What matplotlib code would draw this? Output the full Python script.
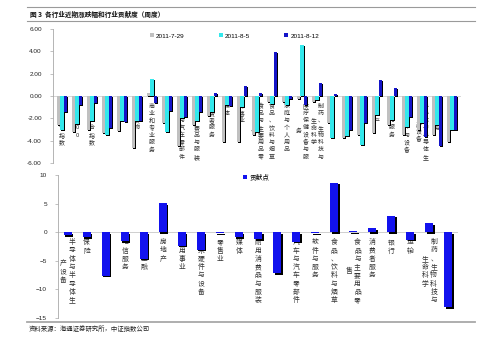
import matplotlib
matplotlib.use("Agg")
import matplotlib.pyplot as plt
from matplotlib.lines import Line2D
import numpy as np

plt.rcParams['font.family'] = ['Liberation Sans', 'Noto Sans CJK SC', 'DejaVu Sans']
CJK = ['Noto Sans CJK SC', 'DejaVu Sans']

# ---- weekly returns by index / industry group (%) ----
top_categories = ["上证综合指数", "沪深300", "深证综合指数", "能源", "材料", "资本货物",
                  "商业和专业服务", "运输", "汽车与汽车零部件", "耐用消费品与服装", "消费者服务",
                  "媒体", "零售业", "食品与主要用品零售", "食品、饮料与烟草", "家庭与个人用品",
                  "医疗保健设备与服务", "制药、生物科技与生命科学", "银行", "多元金融", "保险",
                  "房地产", "软件与服务", "技术硬件与设备", "半导体与半导体生产设备", "电信服务",
                  "公用事业"]
series_names = ["2011-7-29", "2011-8-5", "2011-8-12"]
wk_0729 = [-2.6, -3.25, -3.05, -3.3, -3.1, -4.7, 0.3, -2.45, -4.5, -2.6, -1.8, -4.1, -4.1,
           -3.5, -0.5, -0.5, -0.3, -0.5, -2.4, -3.8, -3.5, -3.35, -2.6, -3.5, -3.0, -3.5, -4.1]
wk_0805 = [-3.0, -2.55, -2.2, -3.5, -2.2, -2.2, 1.55, -3.25, -2.0, -2.2, -1.4, -0.8, -1.0,
           -3.2, -0.7, -0.8, 4.55, -0.4, -3.8, -3.6, -4.4, -1.7, -2.15, -2.75, -2.4, -2.6, -3.05]
wk_0812 = [-1.4, -0.8, -0.6, -2.9, -2.3, -2.2, -0.6, -1.35, -1.9, -1.4, 0.3, -0.9, 0.9,
           0.3, 3.95, -0.3, -0.8, 1.2, 0.2, -3.05, -2.45, 1.45, 0.7, -1.85, -3.65, -4.5, -3.05]
top_ticks = [-6, -4, -2, 0, 2, 4, 6]

# ---- contribution points by industry group ----
bottom_categories = ["半导体与半导体生产设备", "保险", "材料", "电信服务", "多元金融", "房地产",
                     "公用事业", "技术硬件与设备", "零售业", "媒体", "耐用消费品与服装", "能源",
                     "汽车与汽车零部件", "软件与服务", "食品、饮料与烟草", "食品与主要用品零售",
                     "消费者服务", "银行", "运输", "制药、生物科技与生命科学", "资本货物"]
contrib_name = "贡献点"
contrib = [-0.55, -0.85, -7.6, -1.6, -4.6, 5.1, -2.35, -3.05, -0.2, -0.9, -1.2, -7.2,
           -1.7, -0.2, 8.6, 0.2, 0.7, 2.9, -1.3, 1.55, -13.1]
bottom_ticks = [-15, -10, -5, 0, 5, 10]

title = "图 3  各行业近期涨跌幅和行业贡献度（周度）"
source = "资料来源：海通证券研究所，中证指数公司"

W, H = 500, 341
fig = plt.figure(figsize=(W / 100, H / 100), dpi=100)
fig.patch.set_facecolor('white')


def px_axes(left, top, right, bottom):
    return fig.add_axes([left / W, (H - bottom) / H, (right - left) / W, (bottom - top) / H])


def vertical_label(ax, x, text, size, line_px, first_px, col_px, max_chars=8):
    cols = [text[i:i + max_chars] for i in range(0, len(text), max_chars)]
    n = len(cols)
    first_len = len(cols[0])
    center = first_px + (first_len - 1) / 2 * line_px
    for k, col in enumerate(cols):
        dx = ((n - 1) / 2 - k) * col_px
        for j, ch in enumerate(col):
            dy = center + (j - (len(col) - 1) / 2) * line_px
            ax.annotate(ch, xy=(x, 0), xytext=(dx * 0.72, -dy * 0.72),
                        textcoords='offset points', ha='center', va='center',
                        fontsize=size, family=CJK, color='#333333', zorder=2)


def style_axes(ax):
    for s in ['top', 'right', 'bottom']:
        ax.spines[s].set_visible(False)
    ax.spines['left'].set_color('#a8a8a8')
    ax.spines['left'].set_linewidth(0.6)
    ax.set_xticks([])
    ax.tick_params(axis='y', length=2, width=0.5, color='#a8a8a8',
                   labelsize=4.6, labelcolor='#222222', pad=5)
    ax.set_facecolor('none')


# ---------------- top chart ----------------
ax1 = px_axes(53, 29, 461, 163)
n1 = len(top_categories)
x1 = np.arange(n1)
bw = 0.22
colors = ['#c0c0c0', '#33e8ec', '#1414c8']
sdx, sdy = 0.07, 0.09
handles = []
for k, (vals, col, name) in enumerate(zip([wk_0729, wk_0805, wk_0812], colors, series_names)):
    xs = x1 + (k - 1) * bw
    ax1.bar(xs + sdx, vals, bw, bottom=-sdy, color='#000000', zorder=3 + k * 0.1, linewidth=0)
    b = ax1.bar(xs, vals, bw, color=col, zorder=3.05 + k * 0.1, linewidth=0, label=name)
    handles.append(b)
ax1.axhline(0, color='#c8c8c8', lw=0.5, zorder=1)
ax1.set_xlim(-0.6, n1 - 0.4)
ax1.set_ylim(-6, 6)
ax1.set_yticks(top_ticks)
ax1.set_yticklabels([f"{v:.2f}" for v in top_ticks])
style_axes(ax1)
ax1.tick_params(axis='y', pad=6)
for i, lab in enumerate(top_categories):
    vertical_label(ax1, i, lab, 4.3, 7.3, 10, 7)
ax1.legend(handles=handles, loc='center', bbox_to_anchor=(0.445, 0.948), ncol=3,
           frameon=False, fontsize=4.6, handlelength=0.6, handleheight=0.6,
           handletextpad=0.3, columnspacing=5.4, borderpad=0)

# ---------------- bottom chart ----------------
ax2 = px_axes(58, 175, 458, 318)
n2 = len(bottom_categories)
x2 = np.arange(n2)
bw2 = 0.42
ax2.bar(x2 + 0.08, contrib, bw2, bottom=-0.26, color='#000000', zorder=3, linewidth=0)
b2 = ax2.bar(x2, contrib, bw2, color='#1212ee', zorder=3.1, linewidth=0, label=contrib_name)
ax2.axhline(0, color='#c8c8c8', lw=0.6, zorder=1)
ax2.set_xlim(-0.5, n2 - 0.5)
ax2.set_ylim(-15, 10)
ax2.set_yticks(bottom_ticks)
style_axes(ax2)
ax2.tick_params(axis='y', pad=6)
for i, lab in enumerate(bottom_categories):
    vertical_label(ax2, i, lab, 4.9, 8.3, 10, 8.5)
leg2 = ax2.legend(handles=[b2], loc='center left', bbox_to_anchor=(0.455, 0.985),
                  frameon=False, handlelength=0.6, handleheight=0.6, handletextpad=0.3,
                  borderpad=0, prop={'family': CJK, 'size': 4.8})

# ---------------- frame: title, rules, source ----------------
for y, lw, c in [(7, 0.8, '#9a9a9a'), (21, 0.8, '#9a9a9a'), (322, 1.3, '#a8a8a8')]:
    fig.add_artist(Line2D([27 / W, 475 / W], [(H - y) / H, (H - y) / H], color=c, lw=lw))
fig.text(30 / W, (H - 14) / H, title, family=CJK, fontsize=4.8, fontweight='bold',
         va='center', ha='left', color='#111111')
fig.text(29 / W, (H - 329) / H, source, family=CJK, fontsize=4.6,
         va='center', ha='left', color='#222222')

fig.savefig("out.png", dpi=100, facecolor='white')
